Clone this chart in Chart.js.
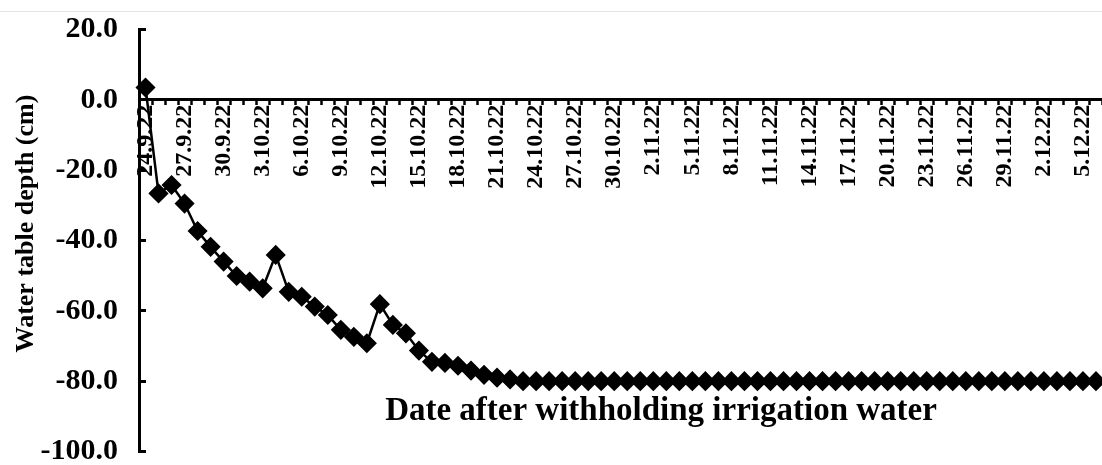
<!DOCTYPE html>
<html>
<head>
<meta charset="utf-8">
<title>Water table depth</title>
<script src="https://cdn.jsdelivr.net/npm/chart.js@4.4.1/dist/chart.umd.min.js"></script>
<style>
  html, body { margin: 0; padding: 0; background: #fff; overflow: hidden; }
  /* the figure is a crop: the plot runs on past the right edge of the window */
  #wrap { position: relative; width: 1126px; height: 465px; }
  #topline { position: absolute; left: 0; top: 11px; width: 1102px; height: 1px; background: #e3e3e3; }
</style>
</head>
<body>
<div id="wrap">
  <canvas id="chart"></canvas>
  <div id="topline"></div>
</div>
<script>
// Daily readings after irrigation water was withheld
const dates = [
  '24.9.22', '25.9.22', '26.9.22', '27.9.22', '28.9.22', '29.9.22', '30.9.22',
  '1.10.22', '2.10.22', '3.10.22', '4.10.22', '5.10.22', '6.10.22', '7.10.22', '8.10.22',
  '9.10.22', '10.10.22', '11.10.22', '12.10.22', '13.10.22', '14.10.22', '15.10.22', '16.10.22',
  '17.10.22', '18.10.22', '19.10.22', '20.10.22', '21.10.22', '22.10.22', '23.10.22', '24.10.22',
  '25.10.22', '26.10.22', '27.10.22', '28.10.22', '29.10.22', '30.10.22', '31.10.22',
  '1.11.22', '2.11.22', '3.11.22', '4.11.22', '5.11.22', '6.11.22', '7.11.22', '8.11.22',
  '9.11.22', '10.11.22', '11.11.22', '12.11.22', '13.11.22', '14.11.22', '15.11.22', '16.11.22',
  '17.11.22', '18.11.22', '19.11.22', '20.11.22', '21.11.22', '22.11.22', '23.11.22', '24.11.22',
  '25.11.22', '26.11.22', '27.11.22', '28.11.22', '29.11.22', '30.11.22',
  '1.12.22', '2.12.22', '3.12.22', '4.12.22', '5.12.22', '6.12.22', '7.12.22'
];

// water table depth (cm)
const depth = [
  3.5, -26.6, -24.2, -29.5, -37.3, -41.8, -46.0,
  -50.1, -51.7, -53.6, -44.1, -54.6, -56.0, -58.8, -61.2,
  -65.4, -67.4, -69.2, -58.1, -64.0, -66.4, -71.3, -74.5,
  -74.8, -75.6, -77.0, -78.2, -79.0, -79.5, -80.0, -80.0,
  -80.0, -80.0, -80.0, -80.0, -80.0, -80.0, -80.0,
  -80.0, -80.0, -80.0, -80.0, -80.0, -80.0, -80.0, -80.0,
  -80.0, -80.0, -80.0, -80.0, -80.0, -80.0, -80.0, -80.0,
  -80.0, -80.0, -80.0, -80.0, -80.0, -80.0, -80.0, -80.0,
  -80.0, -80.0, -80.0, -80.0, -80.0, -80.0,
  -80.0, -80.0, -80.0, -80.0, -80.0, -80.0, -80.0
];

const yMin = -100;
const yMax = 20;
const yStep = 20;
const labelEvery = 3; // only every third date is written on the axis

const xTitle = 'Date after withholding irrigation water';
const yTitle = 'Water table depth (cm)';

const FONT = "'Liberation Serif', 'Times New Roman', serif";

// axis titles sit inside the plot in the original, so draw them by hand
const axisTitles = {
    id: 'axisTitles',
    afterDraw(chart) {
        const ctx = chart.ctx;
        const area = chart.chartArea;
        ctx.save();
        ctx.fillStyle = '#000';

        ctx.font = 'bold 33px ' + FONT;
        ctx.textAlign = 'center';
        ctx.textBaseline = 'alphabetic';
        ctx.fillText(xTitle, 661, chart.scales.y.getPixelForValue(-91));

        ctx.translate(33, (area.top + area.bottom) / 2 - 17);
        ctx.rotate(-Math.PI / 2);
        ctx.font = 'bold 26px ' + FONT;
        ctx.fillText(yTitle, 0, 0);
        ctx.restore();
    }
};

const ctx = document.getElementById('chart').getContext('2d');
new Chart(ctx, {
    type: 'line',
    data: {
        labels: dates,
        datasets: [{
            data: depth,
            borderColor: '#000',
            borderWidth: 2.5,
            backgroundColor: '#000',
            pointStyle: 'rectRot',
            pointRadius: 9,
            pointBorderWidth: 1.5,
            pointBackgroundColor: '#000',
            pointBorderColor: '#000',
            tension: 0
        }]
    },
    options: {
        responsive: true,
        maintainAspectRatio: false,
        animation: false,
        layout: {
            padding: { left: 0, right: 9, top: 29.5, bottom: 13.5 }
        },
        plugins: {
            legend: { display: false },
            tooltip: { enabled: false },
            title: { display: false }
        },
        scales: {
            x: {
                type: 'category',
                position: { y: 0 },
                offset: true,
                grid: {
                    offset: true,
                    drawOnChartArea: false,
                    drawTicks: true,
                    tickLength: 4,
                    tickWidth: 2.5,
                    tickColor: '#000'
                },
                border: { display: true, color: '#000', width: 3 },
                ticks: {
                    autoSkip: false,
                    minRotation: 90,
                    maxRotation: 90,
                    padding: 1,
                    color: '#000',
                    font: { family: FONT, size: 24, weight: 'bold', lineHeight: 1 },
                    callback: function (value, index) {
                        return index % labelEvery === 0 ? dates[index] : '';
                    }
                },
                afterFit: function (scale) {
                    // keep the axis from taking room at the bottom of the chart
                    scale.height = 0;
                    scale.paddingLeft = 0;
                    scale.paddingRight = 0;
                }
            },
            y: {
                min: yMin,
                max: yMax,
                grid: {
                    drawOnChartArea: false,
                    drawTicks: true,
                    tickLength: -7,
                    tickWidth: 3,
                    tickColor: '#000'
                },
                border: { display: true, color: '#000', width: 3 },
                ticks: {
                    stepSize: yStep,
                    padding: 28,
                    color: '#000',
                    font: { family: FONT, size: 30, weight: 'bold', lineHeight: 1 },
                    callback: function (value) {
                        return value.toFixed(1);
                    }
                },
                afterFit: function (scale) {
                    scale.width = 139;
                    scale.paddingTop = 0;
                    scale.paddingBottom = 0;
                }
            }
        }
    },
    plugins: [axisTitles]
});
</script>
</body>
</html>
